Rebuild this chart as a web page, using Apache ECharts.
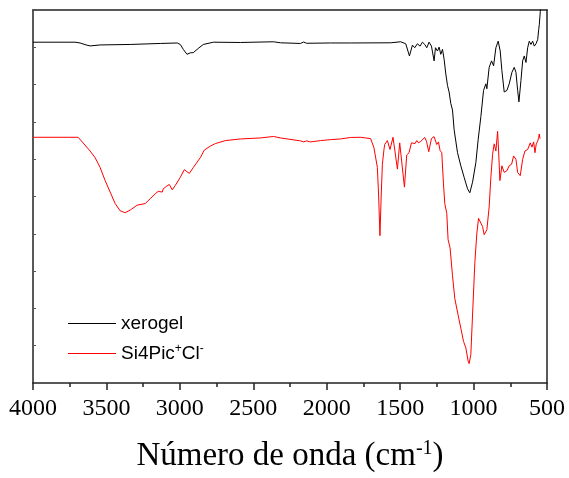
<!DOCTYPE html>
<html><head><meta charset="utf-8">
<script src="https://cdn.jsdelivr.net/npm/echarts@6/dist/echarts.min.js"></script>
<style>html,body{margin:0;padding:0;background:#fff}#c{width:569px;height:478px}</style>
</head><body><div id="c"></div>
<script>
var seriesNames = ['xerogel', 'Si4Pic+Cl-'];
var xTicks = [4000, 3500, 3000, 2500, 2000, 1500, 1000, 500];

var xerogelWave = [4000,3815.8,3713.5,3679.3,3638.4,3611.1,3542.9,3338.2,3133.5,3017.5,2997.1,2976.6,2951.4,2928.9,2908.4,2874.3,2840.2,2771.9,2587.7,2362.6,2314.8,2178.4,2157.9,2137.4,1973.7,1837.2,1564.3,1496.1,1462.0,1436.7,1416.3,1400.6,1382.2,1364.4,1348.2,1332.4,1318.8,1303.1,1286.7,1268.9,1259.4,1245.8,1234.8,1223.2,1211.6,1200.7,1189.1,1177.5,1166.6,1155.0,1143.4,1132.4,1109.3,1086.8,1064.3,1041.1,1025.4,1007.0,984.4,968.7,950.3,932.0,916.3,909.5,893.8,877.4,863.7,848.0,832.3,818.6,807.1,791.4,773.0,757.3,738.8,723.1,711.5,699.9,691.1,677.4,665.8,654.9,643.3,631.7,620.7,609.1,597.6,586.6,575.0,563.4,556.6,552.5,545.7,540.9];
var xerogelT = [91.37,91.37,91.37,91.16,90.63,90.37,90.63,90.76,91.03,91.16,90.76,89.45,88.12,88.52,88.57,89.71,90.76,91.37,91.29,91.48,91.21,91.03,91.42,91.08,91.16,91.16,91.21,91.48,90.95,87.68,90.58,89.89,90.95,90.32,91.37,90.76,89.89,91.37,90.32,86.36,89.89,89.0,90.05,88.12,89.45,86.81,82.85,79.76,78.02,74.93,73.17,67.89,61.74,58.23,55.14,52.06,51.0,53.83,59.1,65.25,71.42,78.44,80.21,78.89,84.62,86.36,85.04,89.89,91.64,89.0,83.72,78.02,78.44,80.21,83.30,84.62,83.30,78.44,75.38,81.08,86.36,87.68,85.94,89.89,91.64,90.76,91.64,90.32,90.95,92.08,94.72,96.04,99.55,101.3];

var si4Wave = [4000,3693.0,3658.9,3611.1,3577.0,3542.9,3508.8,3474.7,3440.5,3406.4,3372.3,3338.2,3290.5,3235.9,3201.8,3167.6,3147.2,3119.9,3113.1,3092.6,3072.1,3051.7,3031.2,2997.1,2969.8,2935.7,2908.4,2887.9,2860.6,2833.3,2792.4,2758.3,2690.1,2587.7,2451.3,2362.6,2314.8,2178.4,2157.9,2137.4,2110.2,2041.9,1973.7,1905.5,1837.2,1769.0,1700.8,1678.3,1655.1,1646.2,1637.4,1629.2,1621.0,1610.0,1605.3,1586.9,1569.1,1548.6,1535.0,1518.6,1502.9,1489.3,1470.8,1455.2,1439.5,1423.1,1409.5,1398.6,1387.0,1375.4,1359.7,1348.2,1332.4,1320.8,1305.1,1286.7,1268.9,1250.6,1239.0,1228.1,1216.5,1204.9,1196.0,1182.4,1173.5,1159.9,1143.4,1127.7,1105.2,1086.8,1068.4,1052.7,1037.0,1030.2,1018.6,1007.0,991.3,977.7,966.1,955.2,938.8,927.9,909.5,893.8,882.2,870.6,859.6,848.0,836.4,829.6,820.7,807.1,791.4,773.0,757.3,740.9,727.3,711.5,699.9,682.2,665.8,650.1,631.7,614.0,602.4,590.8,581.9,573.1,563.4,556.6,552.5,547.8];
var si4T = [65.88,65.88,64.38,62.19,60.42,57.78,54.27,51.19,48.10,46.17,45.65,46.36,47.68,48.10,49.42,50.74,51.37,51.19,52.06,52.69,53.22,51.79,52.95,55.14,57.18,56.20,57.78,58.92,60.42,62.45,63.51,64.19,64.99,65.43,65.70,66.09,65.70,64.91,64.64,64.91,64.64,64.99,65.25,65.43,65.83,65.88,65.51,63.06,57.78,49.87,39.50,49.87,58.65,62.61,63.93,64.99,62.61,65.88,65.51,57.34,64.38,63.93,52.51,61.13,61.74,64.38,64.83,64.19,64.99,64.38,64.77,64.38,65.83,64.83,62.0,65.57,66.04,63.93,64.64,62.35,61.74,53.38,48.10,45.46,38.44,36.23,28.76,22.61,18.21,14.70,11.16,9.42,5.88,5.20,7.65,18.21,32.27,40.18,44.14,44.41,41.95,39.76,41.08,47.23,55.14,61.29,64.12,62.19,67.47,62.19,54.27,58.23,56.46,56.91,58.23,58.65,60.87,59.97,56.46,55.59,59.97,62.19,62.61,64.38,63.24,64.64,61.74,64.12,64.83,65.88,66.76,65.51];

function pairs(xs, ys){ return xs.map(function(x,i){ return [x, ys[i]]; }); }

var chart = echarts.init(document.getElementById('c'), null, {renderer:'canvas'});
var axisColor = '#222';
chart.setOption({
  animation: false,
  backgroundColor: '#fff',
  grid: {left: 33, right: 22, top: 10, bottom: 89},
  legend: {
    orient: 'vertical', left: 63, top: 308,
    itemWidth: 48, itemHeight: 1.2, itemGap: 9,
    icon: 'rect',
    data: seriesNames,
    textStyle: {fontFamily: 'Liberation Sans, Arial', fontSize: 19, color: '#000', lineHeight: 21,
      rich: {sup: {fontFamily: 'Liberation Sans, Arial', fontSize: 12, color: '#000', lineHeight: 21, verticalAlign: 'top', padding: [0,0,8,0]}}},
    formatter: function(n){ return n === 'Si4Pic+Cl-' ? 'Si4Pic{sup|+}Cl{sup|-}' : n; }
  },
  xAxis: [{
    type: 'value', min: 500, max: 4000, interval: 500, inverse: true,
    axisLine: {show: true, onZero: false, lineStyle: {color: axisColor, width: 1.5}},
    axisTick: {show: true, inside: false, length: 7, lineStyle: {color: axisColor, width: 1.5}},
    minorTick: {show: true, splitNumber: 2, length: 4, lineStyle: {color: axisColor, width: 1.5}},
    splitLine: {show: false},
    axisLabel: {color: '#000', fontFamily: 'Liberation Serif, Times New Roman', fontSize: 24, margin: 14,
      formatter: function(v){ return xTicks.indexOf(v) >= 0 ? String(v) : ''; }},
    name: 'Número de onda (cm{sup|-1})',
    nameLocation: 'middle', nameGap: 56,
    nameTextStyle: {color: '#000', fontFamily: 'Liberation Serif, Times New Roman', fontSize: 33,
      rich: {sup: {fontFamily: 'Liberation Serif, Times New Roman', fontSize: 20, color: '#000', verticalAlign: 'top', padding: [0,0,15,0]}}}
  }, {
    type: 'value', min: 500, max: 4000, inverse: true, position: 'top',
    axisLine: {show: true, onZero: false, lineStyle: {color: axisColor, width: 1.5}},
    axisTick: {show: false}, axisLabel: {show: false}, splitLine: {show: false}
  }],
  yAxis: [{
    type: 'value', min: 0, max: 100, interval: 10,
    axisLine: {show: true, onZero: false, lineStyle: {color: axisColor, width: 1.5}},
    axisTick: {show: true, inside: true, length: 3, lineStyle: {color: '#555', width: 1}},
    axisLabel: {show: false}, splitLine: {show: false}
  }, {
    type: 'value', min: 0, max: 100, position: 'right',
    axisLine: {show: true, onZero: false, lineStyle: {color: axisColor, width: 1.5}},
    axisTick: {show: false}, axisLabel: {show: false}, splitLine: {show: false}
  }],
  series: [{
    name: seriesNames[0], type: 'line', data: pairs(xerogelWave, xerogelT),
    symbol: 'none', clip: true, lineStyle: {color: '#000', width: 1}, itemStyle: {color: '#000'}
  }, {
    name: seriesNames[1], type: 'line', data: pairs(si4Wave, si4T),
    symbol: 'none', clip: true, lineStyle: {color: '#ff0000', width: 1}, itemStyle: {color: '#ff0000'}
  }]
});
</script></body></html>
